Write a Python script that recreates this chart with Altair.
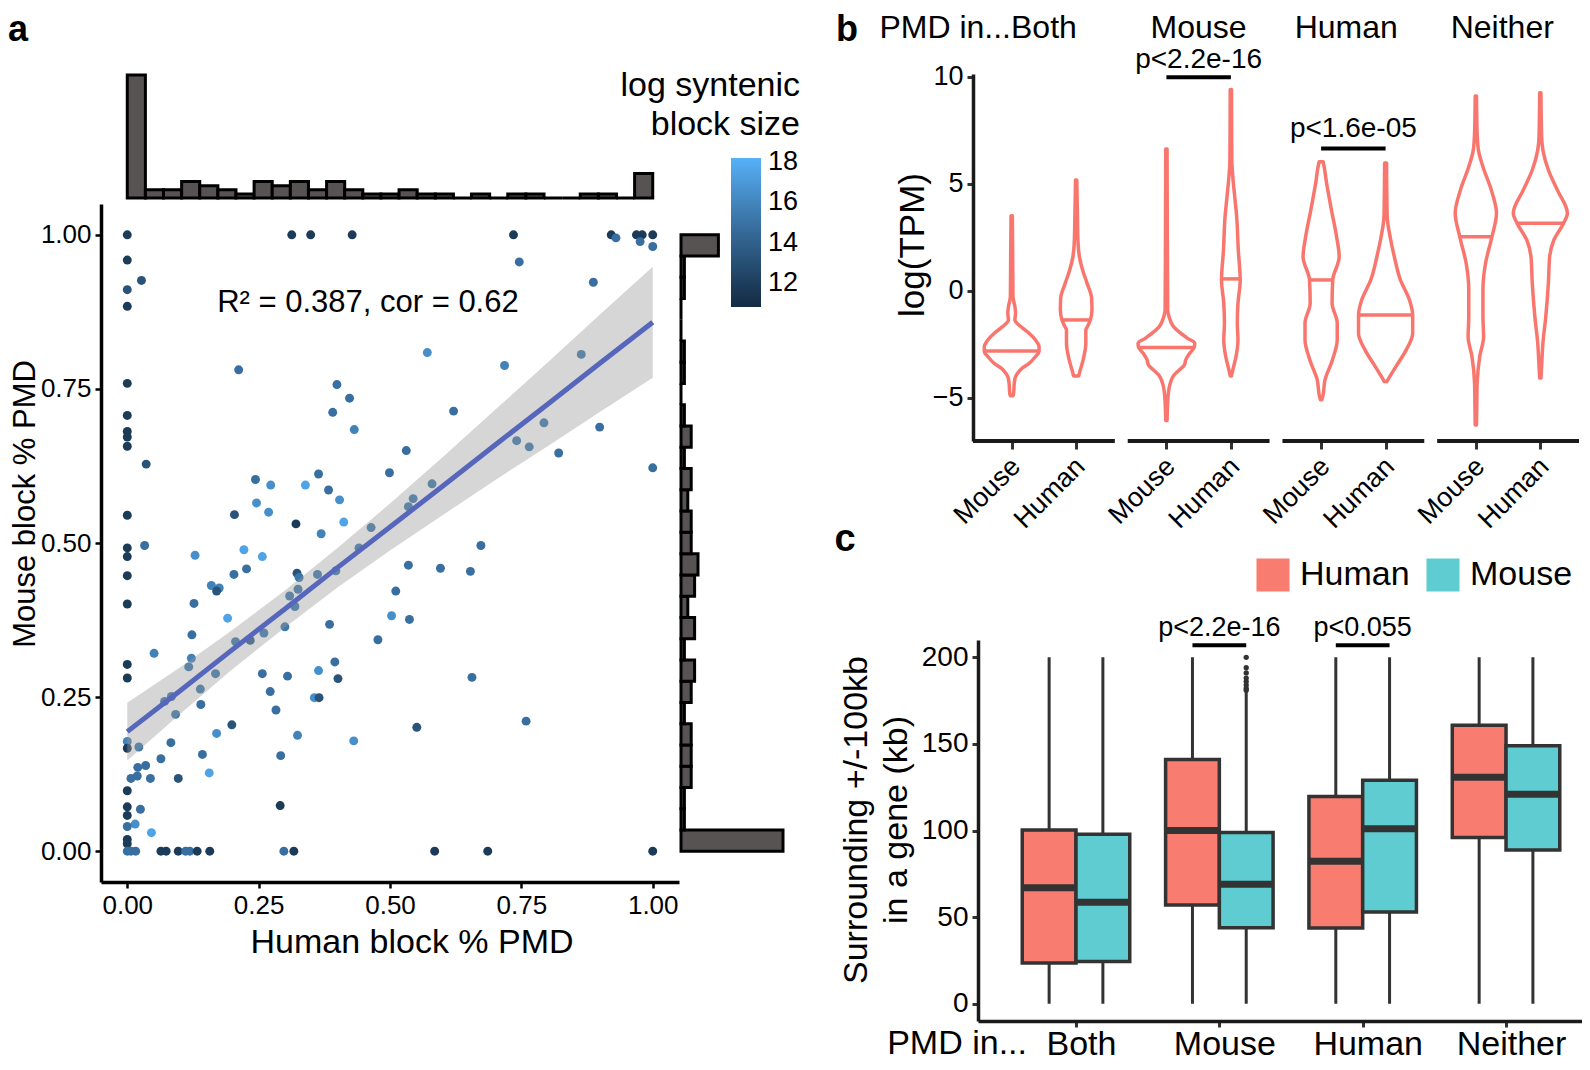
import altair as alt
import pandas as pd

W, H = 1574, 1054          # canvas (page is 1590x1070 with an 8px margin)
FONT = "Liberation Sans"
BLACK = "#000000"
DARK = "#333333"
SALMON = "#F8766D"
HUMAN_COL = "#F97C70"
MOUSE_COL = "#5ECCD0"
HIST_FILL = "#575353"

# ======================= Panel a data =======================
human_block_pmd = [
    0, 0.313, 0.349, 0.428, 0.735, 0.921, 0.930, 0.969, 0.980, 1.0,
    0.976, 1.0, 0.746, 0, 0.027, 0.887, 0, 0, 0.571, 0.718,
    0.864, 0.212, 0, 0.399, 0.423, 0.391, 0.621, 0, 0.432, 0.793,
    0.899, 0, 0, 0, 0.741, 0.765, 0.821, 0.531, 0.036, 1.0,
    0.499, 0.244, 0.273, 0.339, 0.364, 0.383, 0.404, 0.580, 0.544, 0.535,
    0.246, 0.269, 0.412, 0, 0.204, 0.464, 0.321, 0.033, 0.673, 0,
    0, 0.222, 0.129, 0.257, 0.441, 0.369, 0, 0.203, 0.227, 0.323,
    0.362, 0.327, 0.397, 0.535, 0.596, 0.653, 0.160, 0.175, 0.170, 0.325,
    0.309, 0.511, 0, 0.127, 0.319, 0.191, 0.503, 0.537, 0.385, 0.300,
    0.260, 0.206, 0.234, 0.477, 0.123, 0.051, 0.122, 0.117, 0, 0,
    0.168, 0.257, 0.305, 0.364, 0.395, 0.401, 0.656, 0.139, 0.272, 0.071,
    0.084, 0.140, 0.283, 0.092, 0.356, 0.365, 0.199, 0.551, 0.759, 0.170,
    0.324, 0.431, 0, 0, 0.022, 0.083, 0.143, 0.292, 0.064, 0.020,
    0.035, 0.156, 0.007, 0.019, 0.044, 0.097, 0, 0, 0, 0.025,
    0.291, 0.015, 0, 0.046, 0, 0, 0, 0.007, 0.016, 0.064,
    0.074, 0.097, 0.111, 0.119, 0.133, 0.157, 0.298, 0.317, 0.585, 0.686,
    1.0]
mouse_block_pmd = [
    1.0, 1.0, 1.0, 1.0, 1.0, 1.0, 0.995, 1.0, 1.0, 1.0,
    0.989, 0.981, 0.956, 0.959, 0.926, 0.923, 0.911, 0.884, 0.809, 0.788,
    0.806, 0.781, 0.759, 0.757, 0.735, 0.712, 0.714, 0.707, 0.684, 0.695,
    0.688, 0.681, 0.672, 0.657, 0.666, 0.656, 0.646, 0.650, 0.628, 0.622,
    0.614, 0.603, 0.594, 0.594, 0.612, 0.586, 0.570, 0.596, 0.572, 0.559,
    0.565, 0.550, 0.534, 0.545, 0.546, 0.525, 0.531, 0.496, 0.496, 0.492,
    0.478, 0.489, 0.480, 0.478, 0.492, 0.515, 0.447, 0.449, 0.458, 0.451,
    0.449, 0.444, 0.455, 0.464, 0.459, 0.454, 0.431, 0.427, 0.422, 0.425,
    0.414, 0.422, 0.401, 0.402, 0.397, 0.378, 0.382, 0.376, 0.368, 0.364,
    0.354, 0.340, 0.342, 0.343, 0.351, 0.321, 0.313, 0.299, 0.303, 0.281,
    0.288, 0.288, 0.284, 0.293, 0.307, 0.280, 0.282, 0.263, 0.259, 0.243,
    0.251, 0.238, 0.229, 0.222, 0.249, 0.249, 0.205, 0.201, 0.211, 0.191,
    0.188, 0.179, 0.178, 0.167, 0.169, 0.176, 0.157, 0.155, 0.150, 0.136,
    0.139, 0.127, 0.118, 0.122, 0.118, 0.118, 0.098, 0.072, 0.058, 0.068,
    0.074, 0.044, 0.040, 0.030, 0.019, 0.012, 0, 0, 0, 0,
    0, 0, 0, 0, 0, 0, 0, 0, 0, 0,
    0]
log_block_size = [
    11.8, 11.8, 11.8, 11.8, 11.8, 11.8, 14.8, 11.8, 11.8, 11.8,
    14.8, 14.8, 14.8, 11.8, 13.2, 14.8, 13.2, 11.8, 16.5, 15.8,
    15.2, 14.8, 11.8, 14.8, 14.8, 14.8, 14.8, 11.8, 15.8, 15.2,
    14.8, 11.8, 11.8, 11.8, 15.2, 15.2, 14.8, 14.8, 13.2, 14.8,
    14.8, 14.8, 16.5, 17.5, 14.8, 14.8, 16.5, 15.2, 15.2, 15.2,
    16.5, 16.5, 17.5, 11.8, 13.2, 15.2, 11.8, 14.8, 14.8, 11.8,
    11.8, 17.5, 16.5, 17.5, 15.2, 15.8, 11.8, 14.8, 14.8, 13.2,
    15.2, 15.2, 15.2, 14.8, 14.8, 14.8, 15.8, 15.8, 13.2, 15.2,
    15.2, 14.8, 11.8, 14.8, 15.2, 17.5, 16.5, 14.8, 14.8, 15.2,
    15.2, 15.2, 13.8, 14.8, 14.8, 15.8, 15.8, 15.2, 11.8, 11.8,
    15.2, 14.8, 14.8, 16.5, 14.8, 13.2, 14.8, 15.2, 14.8, 15.2,
    15.2, 14.8, 14.8, 15.2, 16.5, 13.2, 13.2, 13.2, 14.8, 16.5,
    15.8, 16.5, 15.8, 11.8, 15.2, 14.8, 14.8, 14.8, 14.8, 14.8,
    14.8, 17.5, 14.8, 14.8, 14.8, 13.2, 11.8, 11.8, 11.8, 14.8,
    11.8, 16.5, 14.8, 17.5, 11.8, 11.8, 14.8, 14.8, 14.8, 11.8,
    11.8, 11.8, 14.8, 14.8, 11.8, 11.8, 14.8, 11.8, 11.8, 11.8,
    11.8]

fit_x = [0.0, 0.1, 0.2, 0.3, 0.4, 0.5, 0.6, 0.7, 0.8, 0.9, 1.0]
fit_y = [0.194, 0.260, 0.327, 0.393, 0.460, 0.526, 0.592, 0.659, 0.725, 0.792, 0.858]
fit_lo = [0.147, 0.222, 0.295, 0.363, 0.428, 0.488, 0.545, 0.602, 0.657, 0.713, 0.768]
fit_hi = [0.241, 0.298, 0.359, 0.423, 0.492, 0.564, 0.639, 0.716, 0.793, 0.871, 0.948]
r2_label = "R\u00b2 = 0.387, cor = 0.62"
r2_at = [0.458, 0.875]

# marginal histograms: 29 bins over [0, 1]
top_hist_counts = [30, 2, 2, 4, 3, 2, 1, 4, 3, 4, 2, 4, 2, 1, 1, 2, 1, 1, 0, 1, 0, 1, 1, 0, 0, 1, 1, 0, 6]
right_hist_counts = [30, 1, 1, 3, 3, 3, 1, 3, 4, 1, 4, 2, 4, 5, 3, 3, 2, 3, 1, 3, 1, 0, 1, 1, 0, 0, 1, 1, 11]

# ======================= Panel b data =======================
pmd_groups = ["Both", "Mouse", "Human", "Neither"]
b_species = ["Mouse", "Human"]
v_both_mouse_y = [-4.91, -4.80, -4.33, -4.02, -3.79, -3.63, -3.40, -3.08, -2.85, -2.62, -2.31, -1.99, -1.68, -1.37, -1.06, -0.75, -0.28, 1.9, 3.5]
v_both_mouse_w = [0.02, 0.03, 0.04, 0.06, 0.11, 0.16, 0.27, 0.37, 0.425, 0.425, 0.37, 0.27, 0.14, 0.05, 0.06, 0.05, 0.02, 0.015, 0.01]
v_both_human_y = [-3.99, -3.86, -3.55, -3.08, -2.46, -1.84, -1.68, -1.37, -0.90, -0.36, 0.34, 0.97, 1.59, 2.21, 3.46, 5.17]
v_both_human_w = [0.04, 0.05, 0.08, 0.12, 0.15, 0.15, 0.175, 0.22, 0.245, 0.24, 0.17, 0.10, 0.05, 0.03, 0.02, 0.01]
v_mouse_mouse_y = [-6.07, -5.58, -4.95, -4.33, -3.94, -3.71, -3.47, -3.24, -2.93, -2.66, -2.46, -2.23, -1.99, -1.68, -1.21, -0.9, 1.9, 6.62]
v_mouse_mouse_w = [0.01, 0.015, 0.025, 0.06, 0.12, 0.20, 0.28, 0.30, 0.36, 0.43, 0.44, 0.33, 0.22, 0.11, 0.04, 0.02, 0.015, 0.01]
v_mouse_human_y = [-3.99, -3.71, -3.08, -2.31, -1.53, -0.59, 0.50, 1.9, 3.46, 4.24, 5.33, 6.1, 9.41]
v_mouse_human_w = [0.01, 0.03, 0.08, 0.11, 0.10, 0.11, 0.145, 0.115, 0.09, 0.065, 0.03, 0.015, 0.01]
v_human_mouse_y = [-5.1, -4.95, -4.17, -3.24, -2.30, -1.52, -0.59, 0.50, 1.59, 2.52, 3.77, 5.02, 5.97, 6.03]
v_human_mouse_w = [0.01, 0.025, 0.06, 0.175, 0.25, 0.25, 0.17, 0.18, 0.28, 0.24, 0.16, 0.085, 0.035, 0.03]
v_human_human_y = [-4.25, -4.17, -3.55, -2.77, -1.99, -1.14, -0.43, 0.50, 1.59, 2.52, 3.46, 5.97]
v_human_human_w = [0.02, 0.035, 0.16, 0.32, 0.42, 0.42, 0.37, 0.23, 0.135, 0.07, 0.025, 0.015]
v_neither_mouse_y = [-6.28, -5.26, -4.33, -3.08, -2.15, -1.21, 0.03, 1.28, 2.52, 3.62, 4.70, 5.79, 6.57, 7.36, 9.1]
v_neither_mouse_w = [0.01, 0.015, 0.02, 0.06, 0.12, 0.11, 0.11, 0.15, 0.25, 0.32, 0.24, 0.11, 0.04, 0.02, 0.01]
v_neither_human_y = [-4.09, -3.55, -2.46, -1.21, 0.35, 1.59, 2.37, 3.15, 3.62, 4.70, 5.64, 6.57, 7.2, 9.25]
v_neither_human_w = [0.01, 0.02, 0.04, 0.085, 0.125, 0.145, 0.21, 0.36, 0.42, 0.265, 0.125, 0.04, 0.02, 0.01]
violin_medians = [-2.82, -1.37, -2.66, 0.55, 0.5, -1.14, 2.52, 3.15]
violin_median_w = [0.425, 0.22, 0.43, 0.145, 0.18, 0.42, 0.25, 0.36]
header_pos = [1.5, 3.9, 6.19, 8.61]
b_pvals = ["p<2.2e-16", "p<1.6e-05"]
b_p_group = [1, 2]
b_p_bar_y = [9.98, 6.65]
b_p_text_y = [10.42, 7.17]

# ======================= Panel c data =======================
c_species = ["Human", "Mouse"]
human_q1 = [23.5, 57.0, 43.7, 96.0]
human_med = [67.0, 100.0, 82.3, 130.8]
human_q3 = [100.3, 141.0, 119.7, 160.8]
human_lo = [0, 0, 0, 0]
human_hi = [200, 200, 200, 200]
mouse_q1 = [24.3, 43.9, 53.0, 88.8]
mouse_med = [58.6, 69.0, 101.0, 121.0]
mouse_q3 = [97.9, 98.9, 129.0, 149.0]
mouse_lo = [0, 0, 0, 0]
mouse_hi = [200, 180, 200, 200]
mouse_in_mouse_outliers = [200, 194, 191, 188, 186, 184, 182, 181]
c_pvals = ["p<2.2e-16", "p<0.055"]
c_p_group = [1, 2]
c_p_bar_y = [207.0, 207.0]
c_p_text_y = [212.5, 212.5]

# ======================= scales (canvas pixels) =======================
def S(domain, rng):
    return alt.Scale(domain=domain, range=rng, nice=False, zero=False)

xa = S([-0.05, 1.05], [93, 671])
ya = S([-0.05, 1.05], [874, 196])
xb = S([0.4, 9.8], [965, 1571])
yb = S([-7.03, 10.13], [433, 66])
xc = S([0.3163, 4.53], [970, 1574])
yc = S([-10, 210], [1013, 632])

layers = []

# ---------------- Panel a ----------------
nb = len(top_hist_counts)
top_df = pd.DataFrame({"x0": [i / nb for i in range(nb)], "x1": [(i + 1) / nb for i in range(nb)],
                       "n": top_hist_counts, "base": 0})
layers.append(alt.Chart(top_df).mark_bar(color=HIST_FILL, stroke=BLACK, strokeWidth=3).encode(
    x=alt.X("x0:Q", scale=xa, axis=None), x2="x1:Q",
    y=alt.Y("n:Q", scale=S([0, 30], [190, 67]), axis=None), y2="base:Q"))

nr = len(right_hist_counts)
right_df = pd.DataFrame({"y0": [i / nr for i in range(nr)], "y1": [(i + 1) / nr for i in range(nr)],
                         "n": right_hist_counts, "base": 0})
layers.append(alt.Chart(right_df).mark_bar(color=HIST_FILL, stroke=BLACK, strokeWidth=3).encode(
    y=alt.Y("y0:Q", scale=ya, axis=None), y2="y1:Q",
    x=alt.X("n:Q", scale=S([0, 30], [673, 775]), axis=None), x2="base:Q"))

sc_df = pd.DataFrame({"human": human_block_pmd, "mouse": mouse_block_pmd, "size": log_block_size})
layers.append(alt.Chart(sc_df).mark_circle(size=80, opacity=1).encode(
    x=alt.X("human:Q", scale=xa,
            axis=alt.Axis(orient="bottom", offset=874 - H, values=[0, 0.25, 0.5, 0.75, 1], format=".2f",
                          title=None, labelFontSize=26, tickSize=6, tickWidth=2.5, domainWidth=3.5,
                          labelPadding=4, labelFlush=False, labelOverlap=False)),
    y=alt.Y("mouse:Q", scale=ya,
            axis=alt.Axis(orient="left", offset=-93, values=[0, 0.25, 0.5, 0.75, 1], format=".2f",
                          title=None, labelFontSize=26, tickSize=6, tickWidth=2.5, domainWidth=3.5,
                          labelPadding=4, labelOverlap=False)),
    color=alt.Color("size:Q", scale=alt.Scale(domain=[10.8, 18.2], range=["#132B43", "#56B1F7"]),
                    legend=alt.Legend(orient="none", legendX=723, legendY=150, title=None,
                                      direction="vertical", gradientLength=149, gradientThickness=30,
                                      gradientStrokeWidth=0, values=[12, 14, 16, 18], labelFontSize=27,
                                      labelOffset=7, labelOverlap=False))))

fit_df = pd.DataFrame({"x": fit_x, "fit": fit_y, "lo": fit_lo, "hi": fit_hi})
layers.append(alt.Chart(fit_df).mark_area(color="#999999", opacity=0.4).encode(
    x=alt.X("x:Q", scale=xa, axis=None), y=alt.Y("lo:Q", scale=ya, axis=None), y2="hi:Q"))
layers.append(alt.Chart(fit_df).mark_line(color="#5566BB", strokeWidth=5).encode(
    x=alt.X("x:Q", scale=xa, axis=None), y=alt.Y("fit:Q", scale=ya, axis=None)))
layers.append(alt.Chart(pd.DataFrame({"x": [r2_at[0]], "y": [r2_at[1]], "t": [r2_label]})).mark_text(
    font=FONT, fontSize=31, color=BLACK, baseline="alphabetic").encode(
    x=alt.X("x:Q", scale=xa, axis=None), y=alt.Y("y:Q", scale=ya, axis=None), text="t:N"))

# ---------------- Panel b ----------------
violin_shapes = [
    (v_both_mouse_y, v_both_mouse_w), (v_both_human_y, v_both_human_w),
    (v_mouse_mouse_y, v_mouse_mouse_w), (v_mouse_human_y, v_mouse_human_w),
    (v_human_mouse_y, v_human_mouse_w), (v_human_human_y, v_human_human_w),
    (v_neither_mouse_y, v_neither_mouse_w), (v_neither_human_y, v_neither_human_w)]
v_rows, m_rows = [], []
k = 0
for fi, grp in enumerate(pmd_groups):
    for si, sp in enumerate(b_species):
        c = fi * 2.4 + si + 1
        ys, ws = violin_shapes[k]
        for y, w in zip(ys, ws):
            v_rows.append({"vid": grp + "-" + sp, "y": y, "lo": c - w, "hi": c + w})
        m_rows.append({"y": violin_medians[k], "lo": c - violin_median_w[k], "hi": c + violin_median_w[k]})
        k += 1
vdf = pd.DataFrame(v_rows)
mdf = pd.DataFrame(m_rows)

facet_lines = pd.DataFrame({"x0": [0.4 + 2.4 * i for i in range(4)], "x1": [2.6 + 2.4 * i for i in range(4)],
                            "y": [-7.03] * 4})
layers.append(alt.Chart(facet_lines).mark_rule(color="#1A1A1A", strokeWidth=4).encode(
    x=alt.X("x0:Q", scale=xb, axis=None), x2="x1:Q", y=alt.Y("y:Q", scale=yb, axis=None)))

tick_vals = [fi * 2.4 + si + 1 for fi in range(4) for si in range(2)]
layers.append(alt.Chart(vdf).mark_area(orient="horizontal", color=SALMON, fillOpacity=0, stroke=SALMON,
                                       strokeWidth=3.5, interpolate="monotone", strokeJoin="round").encode(
    y=alt.Y("y:Q", scale=yb,
            axis=alt.Axis(orient="left", offset=-965, values=[-5, 0, 5, 10], title=None, labelFontSize=27,
                          tickSize=6, tickWidth=3, domainWidth=3.5, domainColor="#1A1A1A",
                          tickColor=DARK, labelPadding=4, labelOverlap=False)),
    x=alt.X("lo:Q", scale=xb,
            axis=alt.Axis(orient="bottom", offset=433 - H, values=tick_vals, title=None, domain=False,
                          labelExpr="(datum.value - floor(datum.value/2.4)*2.4) < 1.5 ? 'Mouse' : 'Human'",
                          labelAngle=-45, labelAlign="right", labelBaseline="middle", labelFontSize=27,
                          tickSize=8, tickWidth=3, tickColor=DARK, labelPadding=13, labelOffset=4,
                          labelFlush=False, labelOverlap=False)),
    x2="hi:Q", detail="vid:N"))
layers.append(alt.Chart(mdf).mark_rule(color=SALMON, strokeWidth=3.5).encode(
    x=alt.X("lo:Q", scale=xb, axis=None), x2="hi:Q", y=alt.Y("y:Q", scale=yb, axis=None)))

bp = pd.DataFrame({"x0": [g * 2.4 + 1 for g in b_p_group], "x1": [g * 2.4 + 2 for g in b_p_group],
                   "xc": [g * 2.4 + 1.5 for g in b_p_group], "yb": b_p_bar_y, "yt": b_p_text_y, "t": b_pvals})
layers.append(alt.Chart(bp).mark_rule(color=BLACK, strokeWidth=4).encode(
    x=alt.X("x0:Q", scale=xb, axis=None), x2="x1:Q", y=alt.Y("yb:Q", scale=yb, axis=None)))
layers.append(alt.Chart(bp).mark_text(font=FONT, fontSize=28, color=BLACK, baseline="alphabetic").encode(
    x=alt.X("xc:Q", scale=xb, axis=None), y=alt.Y("yt:Q", scale=yb, axis=None), text="t:N"))

hd = pd.DataFrame({"x": header_pos, "t": pmd_groups})
layers.append(alt.Chart(hd).mark_text(font=FONT, fontSize=32, color=BLACK, baseline="alphabetic").encode(
    x=alt.X("x:Q", scale=xb, axis=None), y=alt.value(30), text="t:N"))

# ---------------- Panel c ----------------
box_rows = []
for gi, grp in enumerate(pmd_groups):
    g = gi + 1
    for sp, off, q1, md, q3, lo, hi in [
            ("Human", -0.1875, human_q1[gi], human_med[gi], human_q3[gi], human_lo[gi], human_hi[gi]),
            ("Mouse", 0.1875, mouse_q1[gi], mouse_med[gi], mouse_q3[gi], mouse_lo[gi], mouse_hi[gi])]:
        cpos = g + off
        box_rows.append({"group": grp, "species": sp, "xc": cpos, "x0": cpos - 0.1875, "x1": cpos + 0.1875,
                         "q1": q1, "med": md, "q3": q3, "lo": lo, "hi": hi})
bdf = pd.DataFrame(box_rows)

layers.append(alt.Chart(bdf).mark_rule(color=DARK, strokeWidth=3).encode(
    x=alt.X("xc:Q", scale=xc, axis=None), y=alt.Y("lo:Q", scale=yc, axis=None), y2="hi:Q"))
layers.append(alt.Chart(bdf).mark_bar(stroke=DARK, strokeWidth=3.5).encode(
    x=alt.X("x0:Q", scale=xc,
            axis=alt.Axis(orient="bottom", offset=1013 - H, values=[1, 2, 3, 4], title=None,
                          labelExpr="['Both','Mouse','Human','Neither'][datum.value - 1]",
                          labelFontSize=34, labelBaseline="alphabetic", tickSize=6, tickWidth=3,
                          tickColor=DARK, domainWidth=3.5, domainColor="#1A1A1A", labelPadding=27,
                          labelOffset=5, labelFlush=False, labelOverlap=False)),
    x2="x1:Q",
    y=alt.Y("q1:Q", scale=yc,
            axis=alt.Axis(orient="left", offset=-970, values=[0, 50, 100, 150, 200], title=None,
                          labelFontSize=28, tickSize=6, tickWidth=3, tickColor=DARK, domainWidth=3.5,
                          domainColor="#1A1A1A", labelPadding=4, labelOverlap=False)),
    y2="q3:Q",
    color=alt.Color("species:N", scale=alt.Scale(domain=c_species, range=[HUMAN_COL, MOUSE_COL]),
                    legend=alt.Legend(orient="none", legendX=1248, legendY=550, direction="horizontal",
                                      title=None, symbolType="square", symbolSize=1089,
                                      symbolStrokeWidth=0, labelFontSize=34, labelOffset=10,
                                      columnPadding=16))))
layers.append(alt.Chart(bdf).mark_rule(color=DARK, strokeWidth=7).encode(
    x=alt.X("x0:Q", scale=xc, axis=None), x2="x1:Q", y=alt.Y("med:Q", scale=yc, axis=None)))

odf = pd.DataFrame({"x": [2 + 0.1875] * len(mouse_in_mouse_outliers), "y": mouse_in_mouse_outliers})
layers.append(alt.Chart(odf).mark_circle(size=28, color=DARK, opacity=1).encode(
    x=alt.X("x:Q", scale=xc, axis=None), y=alt.Y("y:Q", scale=yc, axis=None)))

cp = pd.DataFrame({"x0": [g + 1 - 0.1875 for g in c_p_group], "x1": [g + 1 + 0.1875 for g in c_p_group],
                   "xc": [g + 1 for g in c_p_group], "yb": c_p_bar_y, "yt": c_p_text_y, "t": c_pvals})
layers.append(alt.Chart(cp).mark_rule(color=BLACK, strokeWidth=4).encode(
    x=alt.X("x0:Q", scale=xc, axis=None), x2="x1:Q", y=alt.Y("yb:Q", scale=yc, axis=None)))
layers.append(alt.Chart(cp).mark_text(font=FONT, fontSize=27, color=BLACK, baseline="alphabetic").encode(
    x=alt.X("xc:Q", scale=xc, axis=None), y=alt.Y("yt:Q", scale=yc, axis=None), text="t:N"))


# ---------------- titles, panel letters ----------------
def txt(s, x, y, size, angle=0, align="center", baseline="alphabetic", bold=False):
    kw = dict(font=FONT, fontSize=size, align=align, baseline=baseline, color=BLACK)
    if angle:
        kw["angle"] = angle
    if bold:
        kw["fontWeight"] = "bold"
    return alt.Chart(pd.DataFrame({"t": [s]})).mark_text(**kw).encode(
        x=alt.value(x), y=alt.value(y), text="t:N")


layers += [
    txt("a", 10, 33, 36, bold=True),
    txt("b", 839, 33, 36, bold=True),
    txt("c", 837, 543, 38, bold=True),
    txt("Mouse block % PMD", 17.5, 496, 31, angle=270, baseline="middle"),
    txt("Human block % PMD", 404, 945, 34),
    txt("log syntenic", 792, 88, 34, align="right"),
    txt("block size", 792, 127, 34, align="right"),
    txt("log(TPM)", 905, 237, 35, angle=270, baseline="middle"),
    txt("PMD in...", 1003, 30, 32, align="right"),
    txt("Surrounding +/-100kb", 849, 812, 34, angle=270, baseline="middle"),
    txt("in a gene (kb)", 889, 812, 34, angle=270, baseline="middle"),
    txt("PMD in...", 1019, 1046, 34, align="right"),
]

chart = alt.layer(*layers).resolve_scale(
    x="independent", y="independent", color="independent"
).properties(
    width=W, height=H, padding=0, autosize=alt.AutoSizeParams(type="none")
).configure_view(stroke=None).configure_axis(
    grid=False, labelFont=FONT, labelColor=BLACK, domainColor=BLACK, tickColor=BLACK
).configure_legend(labelFont=FONT, labelColor=BLACK, padding=0)

chart.save("out.html", embed_options={"renderer": "svg", "actions": False})
